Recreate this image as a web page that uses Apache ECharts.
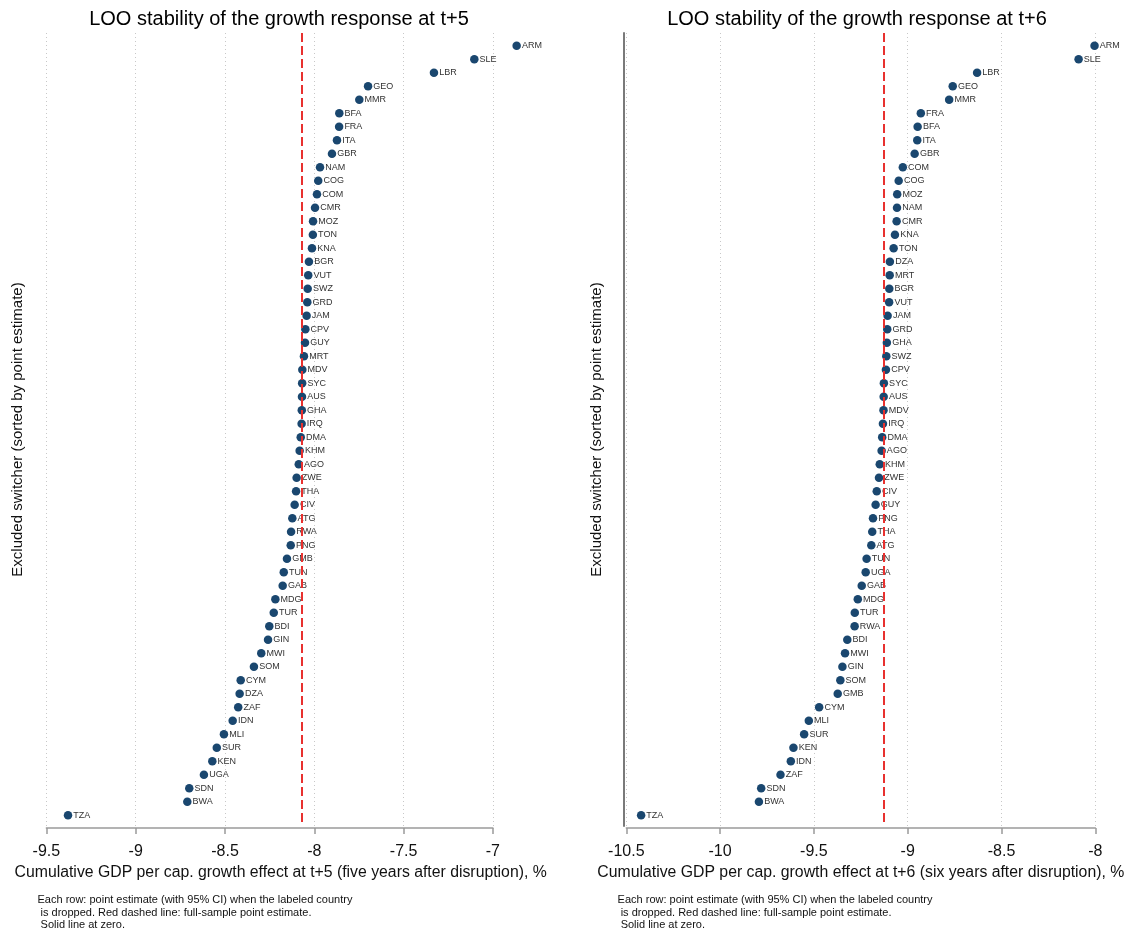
<!DOCTYPE html>
<html>
<head>
<meta charset="utf-8">
<title>LOO stability of the growth response</title>
<script src="https://cdn.jsdelivr.net/npm/echarts@6/dist/echarts.min.js"></script>
<style>
  html, body { margin: 0; padding: 0; background: #fff; }
  #chart { width: 1126px; height: 931px; }
</style>
</head>
<body>
<div id="chart"></div>
<script>
// Leave-one-out estimates at t+5, sorted from largest to smallest
const countriesT5 = ['ARM','SLE','LBR','GEO','MMR','BFA','FRA','ITA','GBR','NAM','COG','COM','CMR','MOZ','TON','KNA','BGR','VUT','SWZ','GRD','JAM','CPV','GUY','MRT','MDV','SYC','AUS','GHA','IRQ','DMA','KHM','AGO','ZWE','THA','CIV','ATG','RWA','PNG','GMB','TUN','GAB','MDG','TUR','BDI','GIN','MWI','SOM','CYM','DZA','ZAF','IDN','MLI','SUR','KEN','UGA','SDN','BWA','TZA'];
const effectT5 = [-6.867,-7.104,-7.330,-7.699,-7.748,-7.860,-7.861,-7.873,-7.901,-7.968,-7.978,-7.985,-7.996,-8.007,-8.008,-8.013,-8.030,-8.034,-8.037,-8.039,-8.043,-8.050,-8.052,-8.058,-8.067,-8.068,-8.069,-8.070,-8.071,-8.076,-8.082,-8.087,-8.099,-8.102,-8.110,-8.123,-8.130,-8.132,-8.153,-8.171,-8.177,-8.218,-8.227,-8.252,-8.259,-8.297,-8.338,-8.412,-8.418,-8.426,-8.457,-8.506,-8.546,-8.571,-8.618,-8.700,-8.711,-9.379];
const fullEstimateT5 = -8.068;

// Leave-one-out estimates at t+6, sorted from largest to smallest
const countriesT6 = ['ARM','SLE','LBR','GEO','MMR','FRA','BFA','ITA','GBR','COM','COG','MOZ','NAM','CMR','KNA','TON','DZA','MRT','BGR','VUT','JAM','GRD','GHA','SWZ','CPV','SYC','AUS','MDV','IRQ','DMA','AGO','KHM','ZWE','CIV','GUY','PNG','THA','ATG','TUN','UGA','GAB','MDG','TUR','RWA','BDI','MWI','GIN','SOM','GMB','CYM','MLI','SUR','KEN','IDN','ZAF','SDN','BWA','TZA'];
const effectT6 = [-8.004,-8.089,-8.630,-8.760,-8.779,-8.930,-8.947,-8.949,-8.963,-9.026,-9.048,-9.056,-9.057,-9.059,-9.068,-9.075,-9.095,-9.096,-9.098,-9.099,-9.107,-9.109,-9.111,-9.114,-9.116,-9.127,-9.128,-9.129,-9.132,-9.136,-9.139,-9.149,-9.153,-9.165,-9.171,-9.185,-9.189,-9.194,-9.219,-9.224,-9.245,-9.266,-9.282,-9.283,-9.322,-9.334,-9.348,-9.359,-9.373,-9.472,-9.527,-9.552,-9.609,-9.623,-9.678,-9.781,-9.793,-10.421];
const fullEstimateT6 = -9.127;

// Tick labels of the two horizontal axes
const xTicksT5 = ['-9.5','-9','-8.5','-8','-7.5','-7'];
const xTicksT6 = ['-10.5','-10','-9.5','-9','-8.5','-8'];

const titleT5 = 'LOO stability of the growth response at t+5';
const titleT6 = 'LOO stability of the growth response at t+6';
const xNameT5 = 'Cumulative GDP per cap. growth effect at t+5 (five years after disruption), %';
const xNameT6 = 'Cumulative GDP per cap. growth effect at t+6 (six years after disruption), %';
const yName = 'Excluded switcher (sorted by point estimate)';
const noteText = 'Each row: point estimate (with 95% CI) when the labeled country\n is dropped. Red dashed line: full-sample point estimate.\n Solid line at zero.';

const FONT = '"Liberation Sans", Arial, Helvetica, sans-serif';
const DOT = '#1a476f';
const RED = '#e8312f';
const AXIS_GREY = '#9a9a9a';

function xAxisFor(gridIndex, ticks, name, namePad) {
  const nums = ticks.map(Number);
  return {
    gridIndex: gridIndex,
    type: 'value',
    position: 'bottom',
    min: nums[0],
    max: nums[nums.length - 1],
    interval: 0.5,
    offset: 2,
    axisLine: { show: true, onZero: false, lineStyle: { color: AXIS_GREY, width: 1.5 } },
    axisTick: { show: true, length: 6, lineStyle: { color: AXIS_GREY, width: 1.5 } },
    axisLabel: {
      fontFamily: FONT, fontSize: 16, color: '#111', margin: 16,
      formatter: function (v) {
        const i = nums.findIndex(function (t) { return Math.abs(t - v) < 1e-9; });
        return i >= 0 ? ticks[i] : '';
      }
    },
    splitLine: { show: true, lineStyle: { color: '#c8c8c8', type: [1, 3], width: 1 } },
    name: name,
    nameLocation: 'middle',
    nameGap: 37,
    nameTextStyle: { fontFamily: FONT, fontSize: 15.8, color: '#111', padding: namePad }
  };
}

function yAxisFor(gridIndex, showLine) {
  return {
    gridIndex: gridIndex,
    type: 'value',
    inverse: true,
    position: 'left',
    min: -0.94,
    max: 57.8,
    offset: showLine ? 3 : 0,
    axisLine: { show: showLine, onZero: false, lineStyle: { color: '#7a7a7a', width: 2 } },
    axisTick: { show: false },
    axisLabel: { show: false },
    splitLine: { show: false },
    name: yName,
    nameLocation: 'middle',
    nameGap: showLine ? 19 : 21,
    nameTextStyle: { fontFamily: FONT, fontSize: 15, color: '#111' }
  };
}

function seriesFor(axisIndex, codes, values, fullEstimate) {
  return {
    type: 'scatter',
    xAxisIndex: axisIndex,
    yAxisIndex: axisIndex,
    clip: false,
    symbol: 'circle',
    symbolSize: 8.5,
    itemStyle: { color: DOT, opacity: 1 },
    data: values.map(function (v, i) { return [v, i]; }),
    label: {
      show: true,
      position: 'right',
      distance: 1,
      fontFamily: FONT,
      fontSize: 9,
      color: '#333',
      formatter: function (p) { return codes[p.dataIndex]; }
    },
    emphasis: { disabled: true },
    markLine: {
      silent: true,
      symbol: 'none',
      z: 10,
      label: { show: false },
      lineStyle: { color: RED, type: [9, 4], width: 2 },
      data: [{ xAxis: fullEstimate }]
    }
  };
}

const chart = echarts.init(document.getElementById('chart'), null, { renderer: 'canvas' });

chart.setOption({
  animation: false,
  backgroundColor: '#fff',
  grid: [
    { left: 46.4, width: 446.5, top: 33, height: 793, outerBoundsMode: 'none', containLabel: false },
    { left: 626.3, width: 469, top: 33, height: 793, outerBoundsMode: 'none', containLabel: false }
  ],
  xAxis: [
    xAxisFor(0, xTicksT5, xNameT5, [0, 0, 0, 22]),
    xAxisFor(1, xTicksT6, xNameT6, [0, 0, 0, 0])
  ],
  yAxis: [yAxisFor(0, false), yAxisFor(1, true)],
  series: [
    seriesFor(0, countriesT5, effectT5, fullEstimateT5),
    seriesFor(1, countriesT6, effectT6, fullEstimateT6)
  ],
  graphic: [
    { type: 'text', x: 279, y: 19, style: { text: titleT5, fontFamily: FONT, fontSize: 20, fill: '#000', textAlign: 'center', textVerticalAlign: 'middle' } },
    { type: 'text', x: 857, y: 19, style: { text: titleT6, fontFamily: FONT, fontSize: 20, fill: '#000', textAlign: 'center', textVerticalAlign: 'middle' } },
    { type: 'text', x: 37.5, y: 894, style: { text: noteText, fontFamily: FONT, fontSize: 11, lineHeight: 12.5, fill: '#111', textAlign: 'left', textVerticalAlign: 'top' } },
    { type: 'text', x: 617.6, y: 894, style: { text: noteText, fontFamily: FONT, fontSize: 11, lineHeight: 12.5, fill: '#111', textAlign: 'left', textVerticalAlign: 'top' } }
  ]
});
</script>
</body>
</html>
